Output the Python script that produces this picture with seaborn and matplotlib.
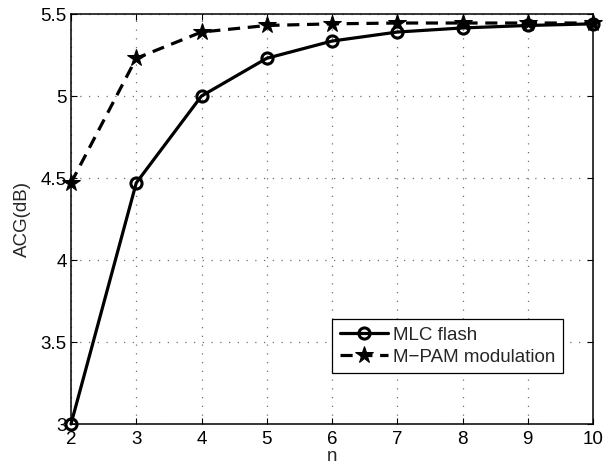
import numpy as np
import pandas as pd
import matplotlib
matplotlib.use("Agg")
import matplotlib.pyplot as plt
import seaborn as sns

n_values = [2, 3, 4, 5, 6, 7, 8, 9, 10]
mlc_flash = [3.0, 4.47, 5.0, 5.23, 5.335, 5.39, 5.415, 5.43, 5.44]
mpam_mod = [4.47, 5.23, 5.39, 5.43, 5.44, 5.445, 5.445, 5.445, 5.445]
x_ticks = [2, 3, 4, 5, 6, 7, 8, 9, 10]
y_ticks = [3, 3.5, 4, 4.5, 5, 5.5]
y_tick_labels = ["3", "3.5", "4", "4.5", "5", "5.5"]

sns.set_theme(style="white")
plt.rcParams['font.family'] = ['Liberation Sans', 'DejaVu Sans']

FS = 13.5
fig = plt.figure(figsize=(6.16, 4.69), dpi=100)
ax = fig.add_axes([71/616, 1-424/469, (593-71)/616, (424-14)/469])

df1 = pd.DataFrame({"n": n_values, "acg": mlc_flash})
df2 = pd.DataFrame({"n": n_values, "acg": mpam_mod})

sns.lineplot(data=df1, x="n", y="acg", ax=ax, color="black", linewidth=2.3,
             marker="o", markersize=8, markerfacecolor="none",
             markeredgecolor="black", markeredgewidth=2.2, label="MLC flash",
             clip_on=False, zorder=3)
sns.lineplot(data=df2, x="n", y="acg", ax=ax, color="black", linewidth=2.3,
             linestyle=(0, (3.8, 2.4)), marker="*", markersize=13,
             markerfacecolor="black", markeredgecolor="black",
             label="M\u2212PAM modulation", clip_on=False, zorder=3)

ax.set_xlim(2, 10)
ax.set_ylim(3, 5.5)
ax.set_xticks(x_ticks)
ax.set_yticks(y_ticks)
ax.set_yticklabels(y_tick_labels)
ax.tick_params(direction="in", length=4, width=0.8, colors="black",
               labelsize=FS, top=True, right=True, bottom=True, left=True)
ax.tick_params(axis="x", pad=5)
ax.tick_params(axis="y", pad=3)
ax.grid(True, color="#707070", linestyle=(0, (1, 6)), linewidth=0.9)
for s in ax.spines.values():
    s.set_color("black")
    s.set_linewidth(1.1)
ax.set_xlabel("n", fontsize=FS, labelpad=0)
ax.set_ylabel("ACG(dB)", fontsize=FS, labelpad=7)

leg = ax.legend(loc="lower right", bbox_to_anchor=(563/616, 1-373/469),
                bbox_transform=fig.transFigure, fontsize=FS, frameon=True,
                fancybox=False, edgecolor="black", framealpha=1,
                handlelength=2.6, borderpad=0.4, labelspacing=0.25,
                handletextpad=0.25, borderaxespad=0)
leg.get_frame().set_linewidth(0.9)

fig.savefig("out.png", dpi=100)
